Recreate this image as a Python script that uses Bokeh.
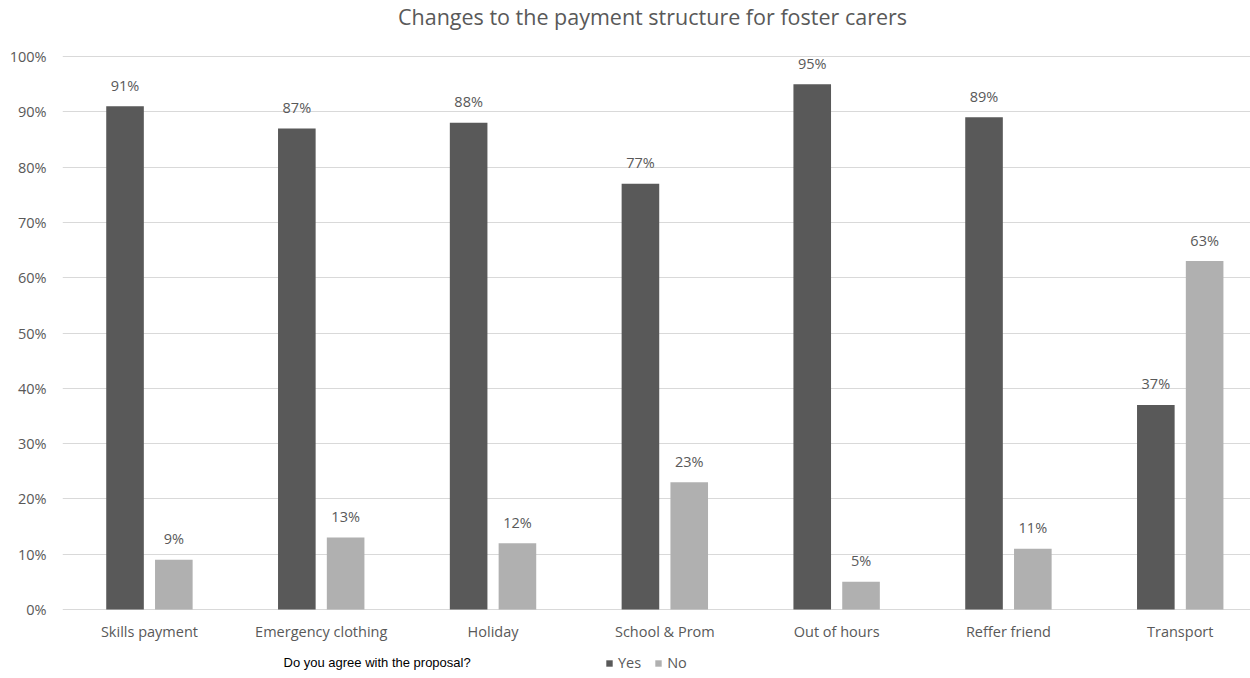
from bokeh.plotting import figure
from bokeh.models import (ColumnDataSource, Range1d, FixedTicker, PrintfTickFormatter,
                          Legend, LegendItem, Label)
from bokeh.transform import dodge
from bokeh.core.properties import value
from bokeh.embed import file_html
from bokeh.resources import INLINE

categories = ["Skills payment", "Emergency clothing", "Holiday", "School & Prom",
              "Out of hours", "Reffer friend", "Transport"]
yes_values = [91, 87, 88, 77, 95, 89, 37]
no_values = [9, 13, 12, 23, 5, 11, 63]
y_ticks = [0, 10, 20, 30, 40, 50, 60, 70, 80, 90, 100]
title_text = "Changes to the payment structure for foster carers"
legend_title = "Do you agree with the proposal?"
series_names = ["Yes", "No"]

YES_COLOR = "#595959"
NO_COLOR = "#b0b0b0"
TEXT_COLOR = "#595959"
GRID_COLOR = "#d9d9d9"
FONT = "Open Sans"

xpos = [i + 0.5 for i in range(len(categories))]
src = ColumnDataSource(dict(
    x=xpos, cat=categories, yes=yes_values, no=no_values,
    yes_lbl=[f"{v}%" for v in yes_values], no_lbl=[f"{v}%" for v in no_values],
))

W, H = 1250, 678
LEFT = 62          # frame left edge (px)
SP = 171.8         # px per category
X0 = -0.006
PX_Y = 5.53        # px per percentage point
Y_TOP_PX, Y_ZERO_PX = 56, 609   # where 100% and 0% sit on the canvas
y_lo = -(H - Y_ZERO_PX) / PX_Y
y_hi = 100 + Y_TOP_PX / PX_Y

p = figure(width=W, height=H, output_backend="svg", toolbar_location=None,
           x_range=Range1d(X0, X0 + (W - LEFT) / SP), y_range=Range1d(y_lo, y_hi),
           x_axis_location=None,
           min_border_left=LEFT, min_border_right=0, min_border_top=0,
           min_border_bottom=0)
p.outline_line_color = None
p.background_fill_color = "white"
p.border_fill_color = "white"

off = 24.4 / SP
bw = 37.6 / SP
r_yes = p.vbar(x=dodge("x", -off), top="yes", bottom=0, width=bw, source=src,
               fill_color=YES_COLOR, line_color=None)
r_no = p.vbar(x=dodge("x", off), top="no", bottom=0, width=bw, source=src,
              fill_color=NO_COLOR, line_color=None)

p.text(x=dodge("x", -off), y="yes", text="yes_lbl", source=src, text_align="center",
       text_baseline="alphabetic", y_offset=-21, text_font=value(FONT),
       text_font_size="14.5px", text_color=TEXT_COLOR)
p.text(x=dodge("x", off), y="no", text="no_lbl", source=src, text_align="center",
       text_baseline="alphabetic", y_offset=-21, text_font=value(FONT),
       text_font_size="14.5px", text_color=TEXT_COLOR)

# category labels under the 0% line
p.text(x="x", y=0, text="cat", source=src, text_align="center", text_baseline="middle",
       y_offset=22, text_font=value(FONT), text_font_size="14.5px",
       text_color=TEXT_COLOR)

# title
p.add_layout(Label(x=X0 + (652 - LEFT) / SP, y=100 + (Y_TOP_PX - 16) / PX_Y,
                   text=title_text, text_align="center", text_baseline="middle",
                   text_font=FONT, text_font_size="21.5px", text_color=TEXT_COLOR))
# question text below the chart
p.add_layout(Label(x=X0 + (283 - LEFT) / SP, y=-(662 - Y_ZERO_PX) / PX_Y,
                   text=legend_title, text_align="left", text_baseline="middle",
                   text_font="Liberation Sans", text_font_size="13px",
                   text_color="black"))

# y axis
p.yaxis.ticker = FixedTicker(ticks=y_ticks)
p.yaxis.formatter = PrintfTickFormatter(format="%d%%")
p.yaxis.axis_line_color = None
p.yaxis.major_tick_line_color = None
p.yaxis.minor_tick_line_color = None
p.yaxis.major_label_standoff = 10
p.yaxis.major_label_text_font = FONT
p.yaxis.major_label_text_font_size = "14.5px"
p.yaxis.major_label_text_color = TEXT_COLOR

p.xgrid.visible = False
p.ygrid.grid_line_color = GRID_COLOR
p.ygrid.ticker = FixedTicker(ticks=y_ticks)

legend = Legend(items=[LegendItem(label=series_names[0], renderers=[r_yes]),
                       LegendItem(label=series_names[1], renderers=[r_no])],
                orientation="horizontal", location=(605 - LEFT, 6),
                label_text_font=FONT, label_text_font_size="14.5px",
                label_text_color=TEXT_COLOR, glyph_width=8, glyph_height=8,
                label_standoff=5, spacing=13, padding=0, margin=0,
                border_line_color=None, background_fill_alpha=0)
p.add_layout(legend)

open("out.html", "w").write(file_html(p, INLINE))
